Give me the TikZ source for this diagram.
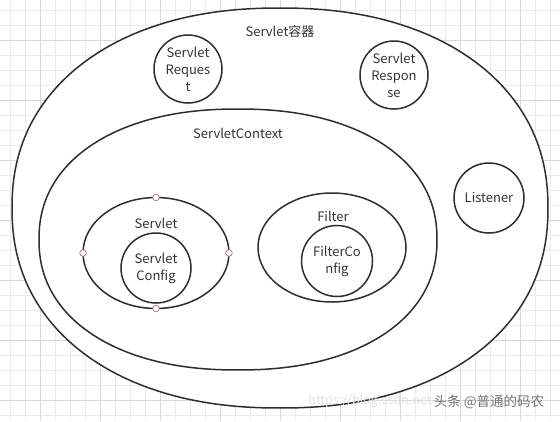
\documentclass[tikz,border=0pt]{standalone}
\usepackage{fontspec}
\setmainfont{Noto Sans CJK SC}
\begin{document}
\begin{tikzpicture}[x=1pt,y=-1pt,
  shapeline/.style={draw=black!82,line width=1.5pt},
  lbl/.style={font=\fontsize{13}{17}\selectfont,text=black!80,align=center,inner sep=0pt},
  handle/.style={circle,draw=red!35!black!55,fill=white,line width=0.7pt,minimum size=6.5pt,inner sep=0pt},
  minorgrid/.style={draw=black!8,line width=0.6pt},
  majorgrid/.style={draw=black!15,line width=0.6pt}]
\useasboundingbox (0,0) rectangle (560,421);
% grid
\foreach \g in {10,25,...,560} {\draw[minorgrid] (\g,0) -- (\g,421);}
\foreach \g in {10,25,...,421} {\draw[minorgrid] (0,\g) -- (560,\g);}
\foreach \g in {40,100,...,560} {\draw[majorgrid] (\g,0) -- (\g,421);}
\foreach \g in {40,100,...,421} {\draw[majorgrid] (0,\g) -- (560,\g);}
% outer container (slightly boxy ellipse)
\draw[shapeline,fill=white] plot[variable=\t,domain=1:359,samples=180]
  ({280+268*cos(\t)*abs(cos(\t))^(-0.0909)},{208+200*sin(\t)*abs(sin(\t))^(-0.0909)}) -- cycle;
\node[lbl] (containerlbl) at (280,32) {Servlet容器};
% request / response
\node[shapeline,circle,minimum size=68pt,inner sep=0pt] (req) at (188,69) {};
\node[lbl] (reqtxt) at (req.center) {Servlet\\Reques\\t};
\node[shapeline,circle,minimum size=68pt,inner sep=0pt] (resp) at (394,75) {};
\node[lbl] (resptxt) at (resp.center) {Servlet\\Respon\\se};
% listener
\node[shapeline,circle,minimum size=70pt,inner sep=0pt] (listener) at (489,198) {};
\node[lbl] (listenertxt) at (listener.center) {Listener};
% servlet context
\draw[shapeline] plot[variable=\t,domain=1:359,samples=180]
  ({238+199*cos(\t)*abs(cos(\t))^(-0.0909)},{239.5+130.5*sin(\t)*abs(sin(\t))^(-0.0909)}) -- cycle;
\node[lbl] (ctxlbl) at (238,133) {ServletContext};
% servlet
\draw[shapeline] (156,253) ellipse [x radius=73, y radius=55.5];
\node[lbl] (servletlbl) at (156,223) {Servlet};
\node[shapeline,circle,minimum size=70pt,inner sep=0pt] (scfg) at (156,268) {};
\node[lbl] (scfgtxt) at (scfg.center) {Servlet\\Config};
\node[handle] (h1) at (156,197.5) {};
\node[handle] (h2) at (156,308.5) {};
\node[handle] (h3) at (83,253) {};
\node[handle] (h4) at (229,253) {};
% filter
\draw[shapeline] (332,247.5) ellipse [x radius=74, y radius=54.5];
\node[lbl] (filterlbl) at (333,216) {Filter};
\node[shapeline,circle,minimum size=71pt,inner sep=0pt] (fcfg) at (337,261) {};
\node[lbl] (fcfgtxt) at (fcfg.center) {FilterCo\\nfig};
% watermarks
\node[font=\fontsize{12.5}{14}\selectfont,text=black!12,inner sep=0pt] (wm1) at (370,401) {https://blog.csdn.net};
\node[font=\fontsize{13.5}{15}\selectfont,text=black!55,inner sep=0pt] (wm2) at (489,402) {头条 @普通的码农};
\end{tikzpicture}
\end{document}
